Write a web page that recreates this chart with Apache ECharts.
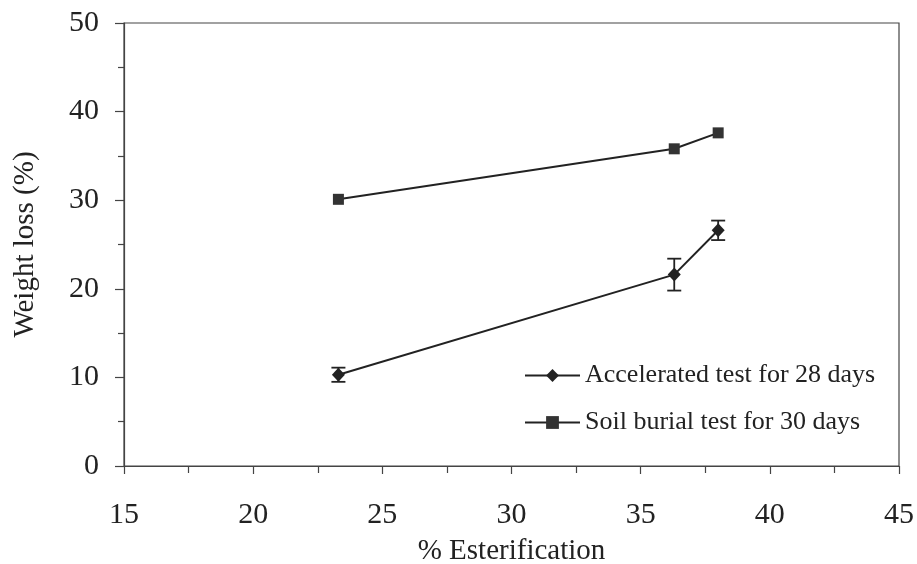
<!DOCTYPE html>
<html>
<head>
<meta charset="utf-8">
<script src="https://cdn.jsdelivr.net/npm/echarts@6/dist/echarts.min.js"></script>
<style>
  html, body { margin: 0; padding: 0; background: #fff; }
  #chart { width: 917px; height: 564px; }
</style>
</head>
<body>
<div id="chart"></div>
<script>
// Degree of esterification (%) for the three samples
const esterification = [23.3, 36.3, 38.0];
// Weight loss (%) after the accelerated test (28 days) with its standard deviation
const accelerated = [10.3, 21.6, 26.6];
const acceleratedErr = [0.8, 1.8, 1.1];
// Weight loss (%) after soil burial (30 days)
const soilBurial = [30.1, 35.8, 37.6];

const seriesNames = ['Accelerated test for 28 days', 'Soil burial test for 30 days'];
const xTicks = [15, 20, 25, 30, 35, 40, 45];
const yTicks = [0, 10, 20, 30, 40, 50];

const FONT = '"Liberation Serif", "Times New Roman", serif';
const INK = '#222';
const AXIS = '#444';

const accelPoints = esterification.map((x, i) => [x, accelerated[i]]);
const soilPoints = esterification.map((x, i) => [x, soilBurial[i]]);
const errData = esterification.map((x, i) => [x, accelerated[i] - acceleratedErr[i], accelerated[i] + acceleratedErr[i]]);

const chart = echarts.init(document.getElementById('chart'), null, { renderer: 'canvas' });

chart.setOption({
  backgroundColor: '#fff',
  animation: false,
  grid: {
    left: 124, right: 18, top: 23, bottom: 98,
    outerBoundsMode: 'none',
    containLabel: false,
    show: true, borderColor: AXIS, borderWidth: 1.2, backgroundColor: 'transparent'
  },
  legend: {
    orient: 'vertical',
    left: 519,
    top: 357,
    itemWidth: 55,
    itemHeight: 16,
    itemGap: 20,
    data: seriesNames,
    textStyle: { fontFamily: FONT, fontSize: 26, color: INK, lineHeight: 27 }
  },
  xAxis: {
    type: 'value',
    min: xTicks[0], max: xTicks[xTicks.length - 1], interval: 5,
    name: '% Esterification',
    nameLocation: 'middle',
    nameGap: 71,
    nameTextStyle: { fontFamily: FONT, fontSize: 29, color: INK },
    axisLine: { show: true, lineStyle: { color: AXIS, width: 1.2 } },
    axisTick: { show: true, inside: false, length: 8, lineStyle: { color: AXIS, width: 1.2 } },
    minorTick: { show: true, splitNumber: 2, length: 7, lineStyle: { color: AXIS, width: 1.2 } },
    axisLabel: { margin: 34, fontFamily: FONT, fontSize: 30, color: INK },
    splitLine: { show: false }
  },
  yAxis: {
    type: 'value',
    min: yTicks[0], max: yTicks[yTicks.length - 1], interval: 10,
    name: 'Weight loss (%)',
    nameLocation: 'middle',
    nameGap: 84,
    nameTextStyle: { fontFamily: FONT, fontSize: 29, color: INK },
    axisLine: { show: true, lineStyle: { color: AXIS, width: 1.2 } },
    axisTick: { show: true, inside: false, length: 9, lineStyle: { color: AXIS, width: 1.2 } },
    minorTick: { show: true, splitNumber: 2, length: 6, lineStyle: { color: AXIS, width: 1.2 } },
    axisLabel: { margin: 25, fontFamily: FONT, fontSize: 30, color: INK },
    splitLine: { show: false }
  },
  series: [
    {
      name: seriesNames[0],
      type: 'line',
      data: accelPoints,
      symbol: 'diamond',
      symbolSize: [13, 14],
      itemStyle: { color: INK },
      lineStyle: { color: INK, width: 2 },
      z: 3
    },
    {
      name: seriesNames[1],
      type: 'line',
      data: soilPoints,
      symbol: 'rect',
      symbolSize: 11,
      itemStyle: { color: '#333' },
      lineStyle: { color: INK, width: 2 },
      z: 3
    },
    {
      // standard deviation bars for the accelerated test
      name: 'errorBars',
      type: 'custom',
      data: errData,
      z: 2,
      silent: true,
      renderItem: function (params, api) {
        const x = api.value(0);
        const lo = api.coord([x, api.value(1)]);
        const hi = api.coord([x, api.value(2)]);
        const cap = 7;
        const style = { stroke: INK, lineWidth: 1.8 };
        return {
          type: 'group',
          children: [
            { type: 'line', shape: { x1: lo[0], y1: lo[1], x2: hi[0], y2: hi[1] }, style: style },
            { type: 'line', shape: { x1: lo[0] - cap, y1: lo[1], x2: lo[0] + cap, y2: lo[1] }, style: style },
            { type: 'line', shape: { x1: hi[0] - cap, y1: hi[1], x2: hi[0] + cap, y2: hi[1] }, style: style }
          ]
        };
      }
    }
  ]
});
</script>
</body>
</html>
